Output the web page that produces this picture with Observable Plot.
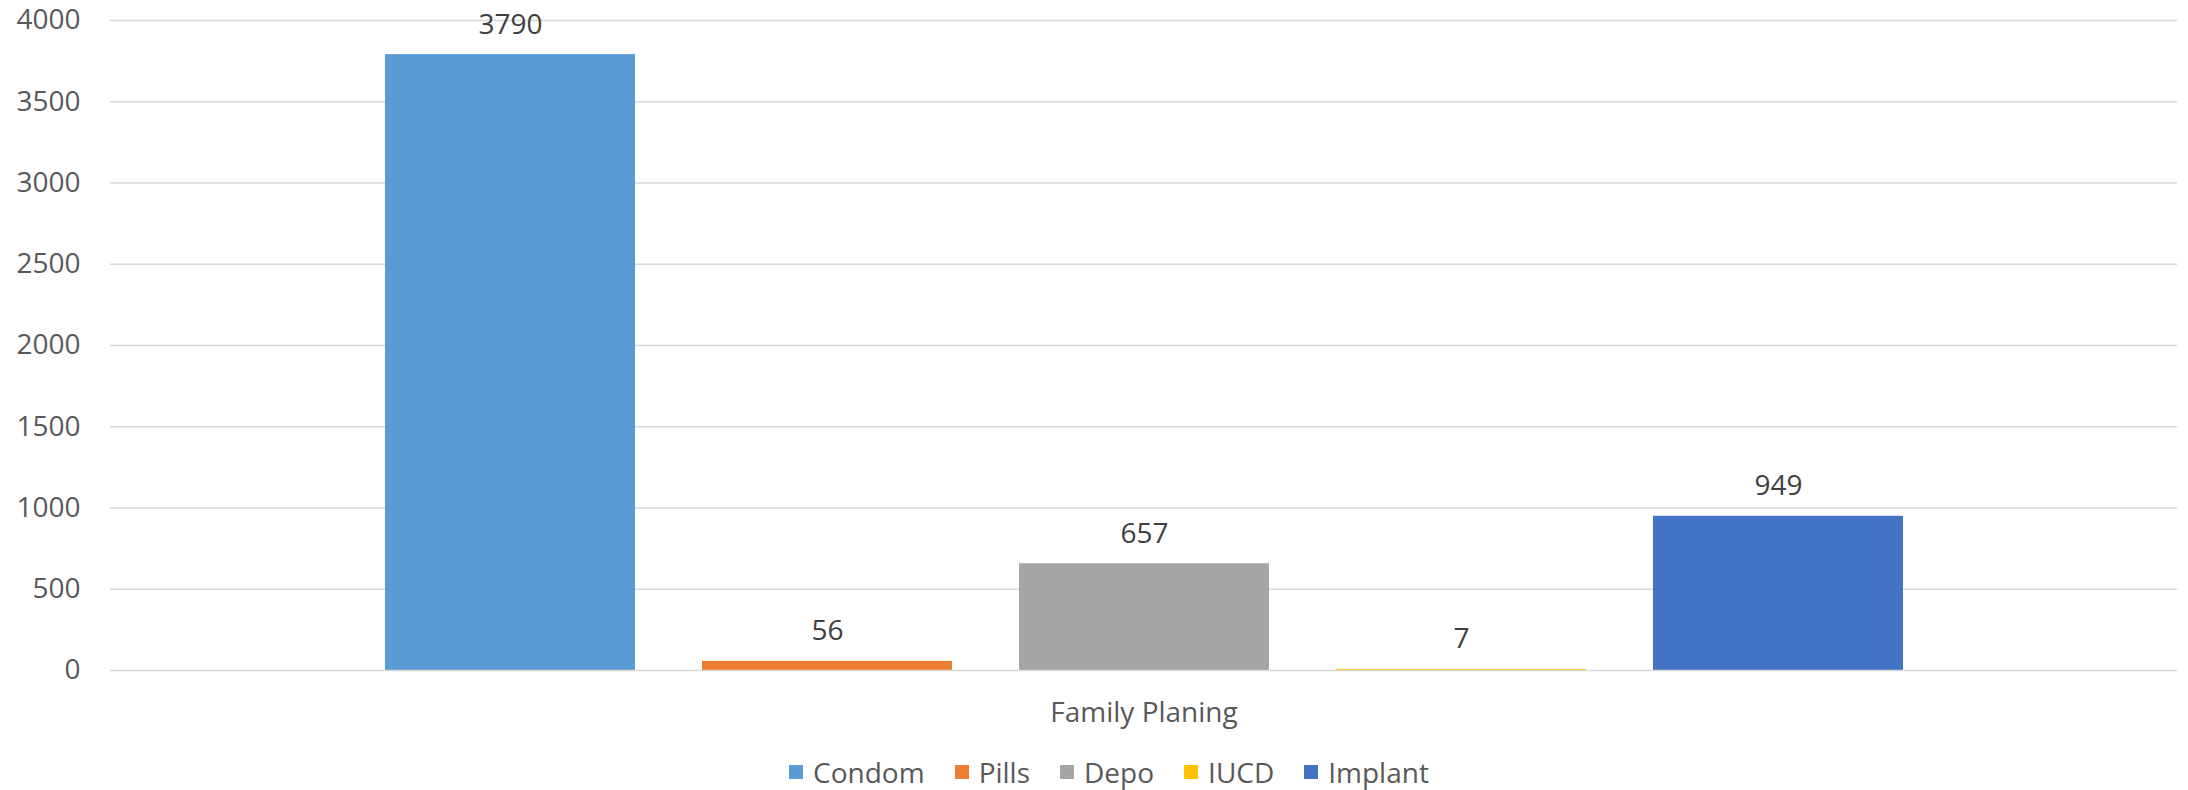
<!DOCTYPE html>
<html>
<head>
<meta charset="utf-8">
<script src="https://cdn.jsdelivr.net/npm/d3@7"></script>
<script src="https://cdn.jsdelivr.net/npm/@observablehq/plot@0.6"></script>
<style>
  html, body { margin: 0; padding: 0; background: #ffffff; }
  body { width: 2188px; height: 790px; overflow: hidden; font-family: "Open Sans", sans-serif; }
  #legend { display: flex; justify-content: center; align-items: center; padding-left: 30px; padding-top: 14px;
            font-size: 28px; color: #595959; line-height: 36px; }
  .item { display: flex; align-items: center; margin: 0 15px; }
  .sw { width: 14px; height: 14px; margin-right: 10px; display: inline-block; }
</style>
</head>
<body>
<div id="chart"></div>
<div id="legend"></div>
<script>
const category = "Family Planing";
const series = ["Condom", "Pills", "Depo", "IUCD", "Implant"];
const values = [3790, 56, 657, 7, 949];
const colors = ["#5b9bd5", "#ed7d31", "#a5a5a5", "#ffc000", "#4472c4"];
const yTicks = [0, 500, 1000, 1500, 2000, 2500, 3000, 3500, 4000];

const data = series.map((s, i) => ({ category, series: s, value: values[i] }));

const chart = Plot.plot({
  width: 2188,
  height: 740,
  marginLeft: 110,
  marginRight: 11,
  marginTop: 20,
  marginBottom: 70,
  style: { fontFamily: "Open Sans, sans-serif", fontSize: "28px", color: "#595959", background: "#ffffff", overflow: "visible" },
  x: { domain: series, paddingInner: 0.2126, paddingOuter: 0.861, axis: null },
  y: { domain: [0, 4000], ticks: yTicks, tickSize: 0, tickPadding: 30, label: null, tickFormat: d => String(d) },
  color: { domain: series, range: colors },
  marks: [
    Plot.ruleY(yTicks.filter(t => t !== 0), { stroke: "#d9d9d9", strokeWidth: 1.5 }),
    Plot.barY(data, { x: "series", y: "value", fill: "series" }),
    Plot.ruleY([0], { stroke: "#d9d9d9", strokeWidth: 1.5 }),
    Plot.text(data, { x: "series", y: "value", text: d => String(d.value), dy: -30, fill: "#404040", fontSize: 28 }),
    Plot.text([category], { frameAnchor: "bottom", text: d => d, dy: 51, fill: "#595959", fontSize: 28 })
  ]
});
document.getElementById("chart").appendChild(chart);

const legend = document.getElementById("legend");
series.forEach((s, i) => {
  const item = document.createElement("div");
  item.className = "item";
  const sw = document.createElement("span");
  sw.className = "sw";
  sw.style.background = colors[i];
  const t = document.createElement("span");
  t.textContent = s;
  item.appendChild(sw);
  item.appendChild(t);
  legend.appendChild(item);
});
</script>
</body>
</html>
